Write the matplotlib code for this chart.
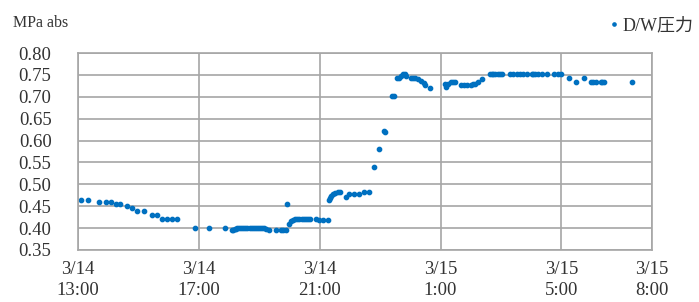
import matplotlib.pyplot as plt

# hours since 3/14 0:00, and D/W pressure (MPa abs)
hours = [13.09, 13.32, 13.69, 13.92, 14.09, 14.25, 14.39, 14.62, 14.78, 14.95,
         15.18, 15.45, 15.62, 15.78, 15.95, 16.11, 16.28, 16.88, 17.34, 17.87,
         18.11, 18.14, 18.18, 18.22, 18.27, 18.33, 18.40, 18.47, 18.54, 18.61,
         18.68, 18.75, 18.82, 18.89, 18.96, 19.03, 19.10, 19.17, 19.22, 19.31,
         19.54, 19.71, 19.80, 19.88, 19.93, 19.99, 20.04, 20.10, 20.19, 20.26,
         20.33, 20.40, 20.47, 20.54, 20.61, 20.68, 20.87, 20.98, 21.10, 21.26,
         21.30, 21.33, 21.38, 21.45, 21.52, 21.60, 21.68, 21.87, 21.98, 22.13,
         22.29, 22.46, 22.62, 22.80, 22.97, 23.14, 23.16, 23.40, 23.47, 23.56,
         23.64, 23.70, 23.75, 23.81, 23.86, 24.01, 24.09, 24.16, 24.25, 24.36,
         24.44, 24.50, 24.66, 25.16, 25.19, 25.25, 25.34, 25.42, 25.49, 25.67,
         25.78, 25.86, 26.00, 26.08, 26.13, 26.25, 26.36, 26.63, 26.69, 26.74,
         26.80, 26.91, 26.96, 27.02, 27.30, 27.41, 27.52, 27.63, 27.74, 27.85,
         28.02, 28.07, 28.13, 28.24, 28.35, 28.51, 28.74, 28.90, 28.98, 29.26,
         29.48, 29.74, 29.98, 30.03, 30.15, 30.31, 30.36, 30.42, 31.34]
pressure = [0.464, 0.464, 0.460, 0.460, 0.460, 0.455, 0.455, 0.451, 0.446, 0.439,
            0.439, 0.430, 0.430, 0.421, 0.421, 0.421, 0.421, 0.400, 0.400, 0.400,
            0.396, 0.395, 0.397, 0.399, 0.400, 0.400, 0.400, 0.400, 0.400, 0.400,
            0.400, 0.400, 0.400, 0.400, 0.400, 0.400, 0.400, 0.400, 0.399, 0.396,
            0.396, 0.396, 0.396, 0.396, 0.455, 0.410, 0.416, 0.419, 0.421, 0.421,
            0.421, 0.421, 0.421, 0.421, 0.421, 0.421, 0.420, 0.419, 0.419, 0.419,
            0.464, 0.468, 0.473, 0.477, 0.481, 0.482, 0.482, 0.471, 0.479, 0.479,
            0.479, 0.482, 0.482, 0.540, 0.581, 0.621, 0.619, 0.701, 0.701, 0.742,
            0.742, 0.748, 0.752, 0.752, 0.748, 0.742, 0.742, 0.742, 0.741, 0.736,
            0.732, 0.726, 0.721, 0.729, 0.723, 0.729, 0.734, 0.734, 0.734, 0.726,
            0.726, 0.726, 0.726, 0.729, 0.730, 0.734, 0.741, 0.751, 0.751, 0.751,
            0.751, 0.751, 0.751, 0.751, 0.751, 0.751, 0.751, 0.751, 0.751, 0.751,
            0.751, 0.751, 0.751, 0.751, 0.751, 0.751, 0.751, 0.751, 0.751, 0.742,
            0.733, 0.742, 0.733, 0.733, 0.733, 0.733, 0.733, 0.733, 0.733]

tick_hours = [13, 17, 21, 25, 29, 32]
tick_labels = ["3/14\n13:00", "3/14\n17:00", "3/14\n21:00",
               "3/15\n1:00", "3/15\n5:00", "3/15\n8:00"]
y_ticks = [0.35, 0.40, 0.45, 0.50, 0.55, 0.60, 0.65, 0.70, 0.75, 0.80]

plt.rcParams['font.family'] = ['Liberation Serif', 'Noto Sans CJK JP']
grid_c = '#a6a6a6'

fig = plt.figure(figsize=(6.99, 3.02), dpi=100)
ax = fig.add_axes([0.1116, 0.1722, 0.8212, 0.6523])

ax.plot(hours, pressure, linestyle='none', marker='o', ms=3.1,
        color='#0070c0', label='D/W圧力')

ax.set_xlim(13, 32)
ax.set_ylim(0.35, 0.80)
ax.set_xticks(tick_hours)
ax.set_xticklabels(tick_labels, linespacing=1.3)
ax.set_yticks(y_ticks)
ax.set_yticklabels([f"{v:.2f}" for v in y_ticks])
ax.tick_params(length=0, labelsize=13.5, colors='#333333')
ax.tick_params(axis='y', pad=19)
ax.tick_params(axis='x', pad=8)
ax.grid(True, color=grid_c, linewidth=1.2)
ax.set_axisbelow(True)
for s in ax.spines.values():
    s.set_color(grid_c)
    s.set_linewidth(1.2)

fig.text(0.018, 0.925, "MPa abs", fontsize=11.5, color='#333333', va='center')
fig.legend(loc='center right', bbox_to_anchor=(1.015, 0.915), frameon=False,
           fontsize=13, handletextpad=0.1, handlelength=0.7, markerscale=0.75,
           labelcolor='#333333')

plt.savefig("out.png", dpi=100)
